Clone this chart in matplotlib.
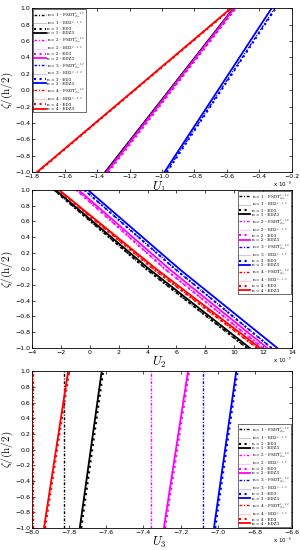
import matplotlib
matplotlib.use("Agg")
import matplotlib.pyplot as plt
from matplotlib.ticker import MultipleLocator

plt.rcParams['mathtext.fontset'] = 'cm'
plt.rcParams['font.family'] = 'DejaVu Sans'

### data: values at zeta = -1, 0, 1
zeta = [-1, 0, 1]
n_labels = ['1', '2', '3', '4']
models = ['FSDT', 'ED2', 'ED3', 'EDZ3']

# U1 (x 1e-6), order: n=1..4, each [FSDT, ED2, ED3, EDZ3]
u1_n1 = [[-1.35, -0.955, -0.56], [-1.35, -0.955, -0.56], [-1.34, -0.945, -0.55], [-1.35, -0.955, -0.56]]
u1_n2 = [[-1.345, -0.95, -0.555], [-1.34, -0.948, -0.555], [-1.33, -0.938, -0.545], [-1.34, -0.948, -0.555]]
u1_n3 = [[-0.975, -0.64, -0.305], [-0.985, -0.655, -0.325], [-0.97, -0.635, -0.30], [-0.985, -0.655, -0.325]]
u1_n4 = [[-1.77, -1.172, -0.575], [-1.77, -1.172, -0.575], [-1.765, -1.168, -0.57], [-1.77, -1.172, -0.575]]

# U2 (x 1e-7)
u2_n1 = [[10.9, 3.9, -2.5], [11.1, 4.1, -2.4], [10.9, 3.9, -2.5], [11.1, 4.1, -2.4]]
u2_n2 = [[12.0, 5.2, -0.95], [12.3, 5.5, -0.8], [12.0, 5.2, -0.95], [12.3, 5.5, -0.8]]
u2_n3 = [[12.6, 5.9, -0.4], [13.0, 6.2, -0.15], [12.6, 5.9, -0.4], [13.0, 6.2, -0.15]]
u2_n4 = [[11.6, 4.4, -2.2], [11.8, 4.6, -2.15], [11.6, 4.4, -2.2], [11.8, 4.6, -2.15]]

# U3 (x 1e-6)
u3_n1 = [[-7.83, -7.83, -7.83], [-7.743, -7.684, -7.625], [-7.735, -7.676, -7.617], [-7.743, -7.684, -7.625]]
u3_n2 = [[-7.36, -7.36, -7.36], [-7.29, -7.225, -7.16], [-7.283, -7.218, -7.153], [-7.29, -7.225, -7.16]]
u3_n3 = [[-7.08, -7.08, -7.08], [-7.02, -6.96, -6.90], [-7.013, -6.953, -6.893], [-7.02, -6.96, -6.90]]
u3_n4 = [[-7.995, -7.995, -7.995], [-7.936, -7.871, -7.806], [-7.93, -7.865, -7.80], [-7.936, -7.871, -7.806]]

colors = ['black', 'magenta', 'blue', 'red']
light = [(0.78, 0.78, 0.78), (1.0, 0.78, 1.0), (0.78, 0.78, 1.0), (1.0, 0.78, 0.78)]

def label_for(n, m):
    if m == 'FSDT':
        return r'n = %s - FSDT$_{Zig}^{\nu=1,2}$' % n
    if m == 'ED2':
        return r'n = %s - ED2$^{\nu=1,2}$' % n
    return 'n = %s - %s' % (n, m)

def draw(ax, data):
    for i, series in enumerate(data):
        for j, m in enumerate(models):
            lab = label_for(n_labels[i], m)
            if m == 'FSDT':
                ax.plot(series[j], zeta, '-.', color=colors[i], lw=1.0, dashes=(2.0, 1.2, 0.8, 1.2), label=lab)
            elif m == 'ED2':
                ax.plot(series[j], zeta, '-', color=light[i], lw=0.8, label=lab)
            elif m == 'ED3':
                ax.plot(series[j], zeta, ':', color=colors[i], lw=1.5, label=lab)
            else:
                ax.plot(series[j], zeta, '-', color=colors[i], lw=1.3, label=lab)

def style(ax, xlim, xstep, xlabel, expo):
    ax.set_xlim(xlim)
    ax.set_ylim(-1, 1)
    ax.xaxis.set_major_locator(MultipleLocator(xstep))
    ax.yaxis.set_major_locator(MultipleLocator(0.2))
    ax.tick_params(direction='in', top=True, right=True, labelsize=4.5, length=2, width=0.5, pad=1.5)
    for s in ax.spines.values():
        s.set_linewidth(0.6)
    ax.set_ylabel(r'$\zeta/(\mathrm{h}/2)$', fontsize=8)
    ax.yaxis.set_label_coords(-0.064, 0.5)
    ax.set_xlabel(xlabel, fontsize=9)
    ax.xaxis.set_label_coords(0.49, -0.045)
    ax.xaxis.label.set_va('top')
    ax.text(1.0, -0.045, r'x 10$^{%d}$' % expo, transform=ax.transAxes, ha='right', va='top', fontsize=4)

fig = plt.figure(figsize=(3, 5.5), dpi=100)
ax1 = fig.add_axes([0.107, 0.687, 0.866, 0.298])
ax2 = fig.add_axes([0.107, 0.367, 0.866, 0.288])
ax3 = fig.add_axes([0.107, 0.04, 0.866, 0.285])

draw(ax1, [u1_n1, u1_n2, u1_n3, u1_n4])
style(ax1, (-1.8, -0.2), 0.2, r'$U_1$', -6)
draw(ax2, [u2_n1, u2_n2, u2_n3, u2_n4])
style(ax2, (-4, 14), 2, r'$U_2$', -7)
draw(ax3, [u3_n1, u3_n2, u3_n3, u3_n4])
style(ax3, (-8, -6.6), 0.2, r'$U_3$', -6)

leg_kw = dict(prop={'family': 'DejaVu Serif', 'size': 3.0}, fancybox=False, edgecolor='black', framealpha=1,
              handlelength=2.8, labelspacing=0.05, borderpad=0.3, handletextpad=0.3, borderaxespad=0.2)
for ax, loc in [(ax1, 'upper left'), (ax2, 'upper right'), (ax3, 'lower right')]:
    leg = ax.legend(loc=loc, **leg_kw)
    leg.get_frame().set_linewidth(0.4)

fig.savefig('out.png', dpi=100)
